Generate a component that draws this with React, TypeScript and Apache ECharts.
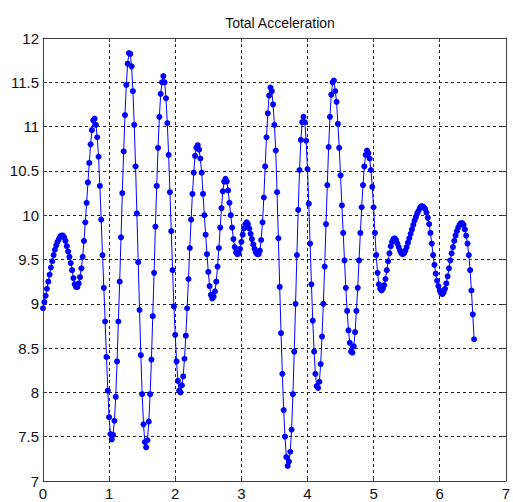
import React, { useEffect, useRef } from "react";
import * as echarts from "echarts";

const chartTitle = "Total Acceleration";
const sampleStep = 0.02; // seconds between samples

// acceleration samples, one array per second of record
const accelSec0 = [
  8.95, 9.02, 9.09, 9.17, 9.25, 9.33, 9.41, 9.48, 9.55, 9.61,
  9.66, 9.70, 9.73, 9.76, 9.77, 9.77, 9.75, 9.71, 9.65, 9.59,
  9.53, 9.46, 9.38, 9.29, 9.22, 9.19, 9.19, 9.23, 9.30, 9.40,
  9.53, 9.71, 9.92, 10.14, 10.37, 10.59, 10.80, 10.96, 11.07, 11.09,
  11.02, 10.88, 10.66, 10.33, 9.95, 9.55, 9.18, 8.80, 8.40, 8.02,
];
const accelSec1 = [
  7.72, 7.53, 7.47, 7.52, 7.68, 7.95, 8.35, 8.80, 9.25, 9.75,
  10.25, 10.72, 11.13, 11.47, 11.71, 11.83, 11.82, 11.68, 11.40, 11.02,
  10.55, 10.02, 9.47, 8.93, 8.42, 7.98, 7.64, 7.44, 7.38, 7.46,
  7.67, 7.98, 8.37, 8.86, 9.35, 9.87, 10.33, 10.76, 11.11, 11.37,
  11.50, 11.57, 11.50, 11.32, 11.04, 10.68, 10.26, 9.82, 9.38, 8.97,
];
const accelSec2 = [
  8.65, 8.35, 8.13, 8.02, 8.00, 8.08, 8.18, 8.38, 8.64, 8.95,
  9.28, 9.63, 9.95, 10.24, 10.48, 10.67, 10.76, 10.79, 10.74, 10.64,
  10.48, 10.24, 10.00, 9.78, 9.56, 9.36, 9.20, 9.10, 9.06, 9.08,
  9.14, 9.25, 9.42, 9.63, 9.86, 10.08, 10.27, 10.38, 10.41, 10.38,
  10.28, 10.14, 10.00, 9.86, 9.73, 9.64, 9.58, 9.56, 9.57, 9.62,
];
const accelSec3 = [
  9.70, 9.78, 9.85, 9.90, 9.92, 9.90, 9.85, 9.79, 9.73, 9.67,
  9.62, 9.58, 9.56, 9.56, 9.60, 9.72, 9.92, 10.20, 10.55, 10.88,
  11.15, 11.35, 11.44, 11.40, 11.25, 11.02, 10.73, 10.26, 9.74, 9.19,
  8.67, 8.21, 7.80, 7.50, 7.27, 7.17, 7.22, 7.33, 7.58, 7.98,
  8.46, 9.00, 9.55, 10.06, 10.51, 10.85, 11.05, 11.11, 11.05, 10.84,
];
const accelSec4 = [
  10.52, 10.13, 9.68, 9.22, 8.81, 8.46, 8.21, 8.07, 8.05, 8.12,
  8.32, 8.63, 9.00, 9.42, 9.90, 10.34, 10.77, 11.11, 11.36, 11.50,
  11.52, 11.40, 11.28, 11.03, 10.76, 10.45, 10.11, 9.80, 9.49, 9.18,
  8.92, 8.70, 8.56, 8.46, 8.45, 8.52, 8.68, 8.92, 9.18, 9.49,
  9.80, 10.09, 10.34, 10.55, 10.68, 10.73, 10.70, 10.64, 10.51, 10.32,
];
const accelSec5 = [
  10.09, 9.80, 9.55, 9.35, 9.22, 9.17, 9.15, 9.17, 9.21, 9.28,
  9.38, 9.48, 9.57, 9.65, 9.70, 9.73, 9.74, 9.72, 9.68, 9.64,
  9.60, 9.57, 9.56, 9.57, 9.60, 9.64, 9.69, 9.74, 9.79, 9.84,
  9.89, 9.94, 9.98, 10.02, 10.05, 10.08, 10.10, 10.10, 10.09, 10.07,
  10.03, 9.97, 9.90, 9.80, 9.68, 9.55, 9.44, 9.34, 9.26, 9.20,
];
const accelSec6 = [
  9.15, 9.12, 9.11, 9.13, 9.17, 9.23, 9.31, 9.40, 9.49, 9.57,
  9.64, 9.71, 9.77, 9.82, 9.86, 9.89, 9.91, 9.91, 9.89, 9.84,
  9.77, 9.68, 9.55, 9.38, 9.15, 8.88, 8.60,
];

const accel = [
  ...accelSec0, ...accelSec1, ...accelSec2, ...accelSec3,
  ...accelSec4, ...accelSec5, ...accelSec6,
];

const xRange = [0, 7];
const yRange = [7, 12];

const FONT = "'Liberation Sans', Arial, sans-serif";
const AXIS_COLOR = "#404040";

export default function App() {
  const ref = useRef<HTMLDivElement>(null);
  useEffect(() => {
    if (!ref.current) return;
    const chart = echarts.init(ref.current, null, { renderer: "svg" });
    const data = accel.map((v, i) => [Number((i * sampleStep).toFixed(2)), v]);
    const gridLine = { show: true, lineStyle: { color: "#222", type: [3, 3], width: 1 } };
    const boxAxis = {
      axisLine: { show: true, onZero: false, lineStyle: { color: AXIS_COLOR, width: 1 } },
      axisTick: { show: true, inside: true, length: 4, lineStyle: { color: AXIS_COLOR } },
    };
    chart.setOption({
      animation: false,
      backgroundColor: "#ffffff",
      title: {
        text: chartTitle,
        left: 275,
        textAlign: "center",
        top: 11,
        textStyle: { fontFamily: FONT, fontSize: 14, fontWeight: "normal", color: "#111" },
      },
      grid: { left: 43, right: 6, top: 38, bottom: 21, containLabel: false },
      xAxis: [
        {
          type: "value",
          min: xRange[0],
          max: xRange[1],
          interval: 1,
          position: "bottom",
          ...boxAxis,
          axisLabel: { fontFamily: FONT, fontSize: 15, color: "#111", margin: 5 },
          splitLine: gridLine,
        },
        {
          type: "value",
          min: xRange[0],
          max: xRange[1],
          interval: 1,
          position: "top",
          ...boxAxis,
          axisLabel: { show: false },
          splitLine: { show: false },
        },
      ],
      yAxis: [
        {
          type: "value",
          min: yRange[0],
          max: yRange[1],
          interval: 0.5,
          position: "left",
          ...boxAxis,
          axisLabel: { fontFamily: FONT, fontSize: 15, color: "#111", margin: 4 },
          splitLine: gridLine,
        },
        {
          type: "value",
          min: yRange[0],
          max: yRange[1],
          interval: 0.5,
          position: "right",
          ...boxAxis,
          axisLabel: { show: false },
          splitLine: { show: false },
        },
      ],
      series: [
        {
          type: "line",
          data,
          xAxisIndex: 0,
          yAxisIndex: 0,
          symbol: "circle",
          symbolSize: 6,
          showSymbol: true,
          showAllSymbol: true,
          lineStyle: { color: "#0000ff", width: 1 },
          itemStyle: { color: "#0000ff" },
          emphasis: { disabled: true },
        },
      ],
    });
    return () => chart.dispose();
  }, []);
  return (
    <div
      ref={ref}
      style={{ position: "fixed", left: 0, top: 0, width: 513, height: 502, background: "#fff" }}
    />
  );
}
